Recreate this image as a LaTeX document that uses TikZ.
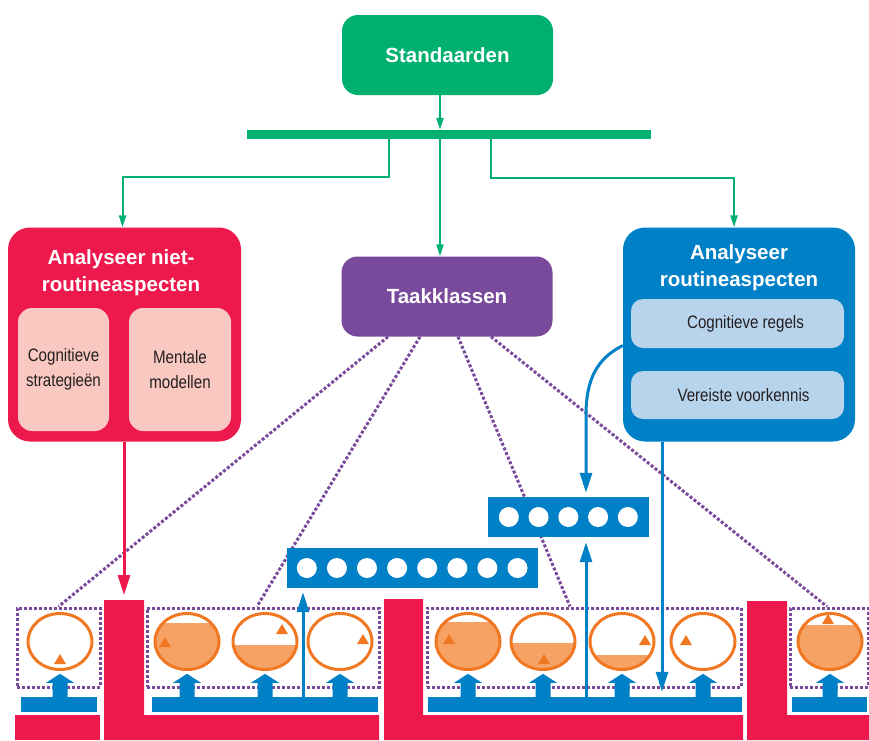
\documentclass[tikz,border=0pt]{standalone}
\usepackage{fontspec}
\setmainfont{Liberation Sans}
\newfontfamily\condfont[FakeStretch=0.84]{Liberation Sans}
\usetikzlibrary{positioning}
\usetikzlibrary{calc}
\usetikzlibrary{arrows.meta,shapes.geometric,backgrounds}

\definecolor{stdgreen}{RGB}{0,176,112}
\definecolor{tred}{RGB}{237,24,76}
\definecolor{tpurple}{RGB}{121,73,155}
\definecolor{tblue}{RGB}{0,128,198}
\definecolor{lpink}{RGB}{249,200,192}
\definecolor{lblue}{RGB}{184,212,236}
\definecolor{torange}{RGB}{241,120,34}
\definecolor{lorange}{RGB}{247,162,101}
\definecolor{dgray}{RGB}{35,31,32}

\begin{document}
\begin{tikzpicture}[x=1pt,y=-1pt, every node/.style={inner sep=0pt},
  mainbox/.style={rounded corners=16pt,text=white,align=center,font=\bfseries\fontsize{20.5}{27}\selectfont},
  inbox/.style={rounded corners=14pt,text=dgray,align=center,font=\condfont\fontsize{18}{25}\selectfont},
  grp/.style={draw=tpurple,line width=3pt,dash pattern=on 3pt off 2pt},
  dotline/.style={draw=tpurple,line width=3pt,dash pattern=on 3pt off 2pt},
  garr/.style={draw=stdgreen,line width=2pt,-{Triangle[length=12pt,width=7pt]}},
  barr/.style={draw=tblue,line width=3pt,-{Triangle[length=20pt,width=12pt]}},
  rarr/.style={draw=tred,line width=3pt,-{Triangle[length=20pt,width=12pt]}},
  bulb/.style={ellipse,draw=torange,line width=3pt,minimum width=64pt,minimum height=56pt}]
			\useasboundingbox (0,0) rectangle (869,740);
			\node[mainbox,fill=stdgreen,minimum width=211pt,minimum height=80pt] (std) at (447.5,55) {Standaarden};
			\node[fill=stdgreen,minimum width=404pt,minimum height=9pt] (bar) at (449,134.5) {};
			\node[mainbox,fill=tpurple,minimum width=211pt,minimum height=80pt] (task) at (447,296.5) {Taakklassen};
			\node[mainbox,fill=tred,rounded corners=22pt,minimum width=233pt,minimum height=214pt] (nonrt) at (124.5,334.5) {};
			\node[mainbox] (nonrttitle) at (121,273) {Analyseer niet-\\routineaspecten};
			\node[inbox,fill=lpink,minimum width=91pt,minimum height=123pt] (cogstr) at (63.5,369.5) {Cognitieve\\strategieën};
			\node[inbox,fill=lpink,minimum width=102pt,minimum height=123pt] (mental) at (180,369.5) {Mentale\\modellen};
			\node[mainbox,fill=tblue,rounded corners=22pt,minimum width=232pt,minimum height=214pt] (rt) at (739,334.5) {};
			\node[mainbox] (rttitle) at (739,268) {Analyseer\\routineaspecten};
			\node[inbox,fill=lblue,rounded corners=12pt,minimum width=213pt,minimum height=49pt] (crule) at (737.5,323.5) {\hspace{16pt}Cognitieve regels};
			\node[inbox,fill=lblue,rounded corners=12pt,minimum width=213pt,minimum height=48pt] (prior) at (737.5,395) {\hspace{12pt}Vereiste voorkennis};

			\node[fill=tblue,minimum width=251pt,minimum height=40pt] (bar8) at (412.5,568) {};
			\foreach \i in {0,...,7}
				\fill[white] ($(bar8.west)+(20+30.1*\i,0)$) circle[radius=10pt];
			\node[fill=tblue,minimum width=161pt,minimum height=40pt] (bar5) at (568.5,517) {};
			\foreach \i in {0,...,4}
				\fill[white] ($(bar5.west)+(21+29.75*\i,0)$) circle[radius=10pt];

			\node[grp,minimum width=83pt,minimum height=79pt] (g0) at (58.5,647.5) {};
			\node[grp,minimum width=232pt,minimum height=79pt] (g1) at (263,647.5) {};
			\node[grp,minimum width=314pt,minimum height=79pt] (g2) at (584,647.5) {};
			\node[grp,minimum width=78pt,minimum height=79pt] (g3) at (829,647.5) {};

			\foreach \n/\x/\lvl/\tx/\ty in {1/60/70/60/659, 2/187/9/165/642, 3/265/31/282/629, 4/340/70/363/639, 5/468/8/449/639, 6/543/29/544/659, 7/622/41/645/640, 8/703/70/686/640, 9/830/11/828/619}
			{
				\node[bulb,path picture={\fill[lorange] (path picture bounding box.south west) rectangle ([yshift=-\lvl pt]path picture bounding box.north east);}] (c\n) at (\x,641.5) {};
				\fill[torange] (\tx-6,\ty+5) -- (\tx+6,\ty+5) -- (\tx,\ty-5) -- cycle;
			}

			\node[fill=tblue,minimum width=76pt,minimum height=15pt] (b0) at (59,704.5) {};
			\node[fill=tblue,minimum width=226pt,minimum height=15pt] (b1) at (265,704.5) {};
			\node[fill=tblue,minimum width=314pt,minimum height=15pt] (b2) at (585,704.5) {};
			\node[fill=tblue,minimum width=75pt,minimum height=15pt] (b3) at (829.5,704.5) {};
			\foreach \n in {1,...,9}
				\fill[tblue] (c\n.south |- b1.north) ++(-7.5,0) -- ++(0,-14) -- ++(-6.5,0) -- ++(14,-9) -- ++(14,9) -- ++(-6.5,0) -- ++(0,14) -- cycle;

			\fill[tred] (15,715) rectangle (100,740);
			\fill[tred] (104,600) -- (144,600) -- (144,715) -- (379,715) -- (379,740) -- (104,740) -- cycle;
			\fill[tred] (384,599) -- (423,599) -- (423,715) -- (743,715) -- (743,740) -- (384,740) -- cycle;
			\fill[tred] (747,601) -- (787,601) -- (787,715) -- (869,715) -- (869,740) -- (747,740) -- cycle;
			\coordinate (l1top) at (124,600);

			\coordinate (hub) at (440,0);
			\coordinate (gl) at (389,177);
			\coordinate (gr) at (491,178);
			\draw[garr] (std.south -| hub) -- (bar.north -| hub);
			\draw[garr] (bar.south -| hub) -- (task.north -| hub);
			\draw[garr] (bar.south -| gl) -- (gl) -| ([xshift=-2pt]nonrt.north);
			\draw[garr] (bar.south -| gr) -- (gr) -| ([xshift=-5pt]rt.north);

			\draw[rarr,shorten >=5pt] (nonrt.south -| l1top) -- (l1top);

			\coordinate (up1) at (303,0);
			\coordinate (up2) at (586,0);
			\coordinate (dn) at (662,0);
			\draw[barr,shorten >=4pt] (b1.north -| up1) -- (bar8.south -| up1);
			\draw[barr,shorten >=5pt] (b2.north -| up2) -- (bar5.south -| up2);
			\draw[barr,shorten >=5pt] (rt.south -| dn) -- (b2.north -| dn);
			\draw[barr,shorten >=4pt] ([yshift=-11pt]rt.west) .. controls (598,358) and (586,378) .. (586,415) -- (bar5.north -| up2);

			\begin{scope}[on background layer]
				\draw[dotline] ([xshift=-59pt]task.south) -- (g0.north);
				\draw[dotline] ([xshift=-27pt]task.south) -- ([xshift=-6pt]g1.north);
				\draw[dotline] ([xshift=11pt]task.south) -- ([xshift=-14pt]g2.north);
				\draw[dotline] ([xshift=44pt]task.south) -- ([xshift=-2pt]g3.north);
			\end{scope}
		\end{tikzpicture}
\end{document}
